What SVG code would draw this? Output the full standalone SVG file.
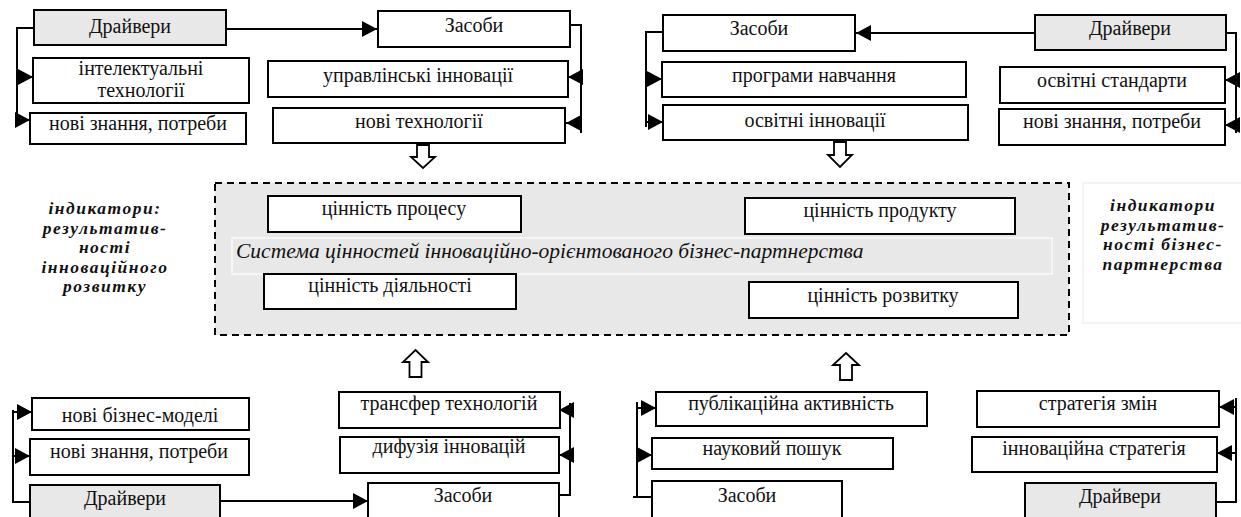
<svg xmlns="http://www.w3.org/2000/svg" width="1241" height="517" viewBox="0 0 1241 517">
<defs>
<style>
.b{fill:#fff;stroke:#000;stroke-width:2}
.g{fill:#e8e8e8;stroke:#000;stroke-width:2}
.t{font-family:'Liberation Serif','Times New Roman',serif;font-size:20px;fill:#111;text-anchor:middle}
.bi{font-family:'Liberation Serif','Times New Roman',serif;font-size:17.5px;letter-spacing:1.5px;font-weight:bold;font-style:italic;fill:#111;text-anchor:middle}
.it{font-family:'Liberation Serif','Times New Roman',serif;font-size:21.5px;font-style:italic;fill:#111}
.c{fill:none;stroke:#000;stroke-width:2}
.h{fill:#fff;stroke:#000;stroke-width:1.8;stroke-linejoin:miter}
</style>
<marker id="ah" markerUnits="userSpaceOnUse" markerWidth="16" markerHeight="16" refX="15" refY="8" orient="auto">
<path d="M0,0 L15,8 L0,16 Z" fill="#000"/>
</marker>
</defs>
<rect width="1241" height="517" fill="#fff"/>

<!-- central frame -->
<g id="frame">
<rect x="215" y="183" width="854" height="152" fill="#e8e8e8" stroke="#000" stroke-width="2" stroke-dasharray="7,5"/>
<rect x="232" y="238" width="820" height="36" fill="#e8e8e8" stroke="#f6f6f6" stroke-width="2"/>
<text class="it" x="236" y="258">Система цінностей інноваційно-орієнтованого бізнес-партнерства</text>
</g>

<!-- top-left -->
<g id="tl-drivers"><rect class="g" x="34" y="10" width="192" height="35"/><text class="t" x="130" y="33">Драйвери</text></g>
<g id="tl-intel"><rect class="b" x="33" y="58" width="216" height="45"/><text class="t" x="141" y="75">інтелектуальні</text><text class="t" x="141" y="97">технології</text></g>
<g id="tl-knowledge"><rect class="b" x="30" y="113" width="216" height="31"/><text class="t" x="138" y="130">нові знання, потреби</text></g>
<g id="tl-means"><rect class="b" x="378" y="11" width="192" height="36"/><text class="t" x="474" y="32">Засоби</text></g>
<g id="tl-mgmt"><rect class="b" x="268" y="61" width="300" height="36"/><text class="t" x="418" y="82">управлінські інновації</text></g>
<g id="tl-tech"><rect class="b" x="273" y="108" width="292" height="35"/><text class="t" x="419" y="128">нові технології</text></g>

<!-- top-right -->
<g id="tr-means"><rect class="b" x="663" y="15" width="192" height="36"/><text class="t" x="759" y="35">Засоби</text></g>
<g id="tr-programs"><rect class="b" x="662" y="62" width="304" height="35"/><text class="t" x="814" y="82">програми навчання</text></g>
<g id="tr-eduinno"><rect class="b" x="663" y="105" width="305" height="35"/><text class="t" x="815" y="127">освітні інновації</text></g>
<g id="tr-drivers"><rect class="g" x="1035" y="15" width="191" height="35"/><text class="t" x="1130" y="35">Драйвери</text></g>
<g id="tr-standards"><rect class="b" x="1000" y="67" width="225" height="36"/><text class="t" x="1112" y="87">освітні стандарти</text></g>
<g id="tr-knowledge"><rect class="b" x="999" y="109" width="226" height="36"/><text class="t" x="1112" y="128">нові знання, потреби</text></g>

<!-- middle -->
<g id="v-process"><rect class="b" x="268" y="196" width="253" height="36"/><text class="t" x="394" y="215">цінність процесу</text></g>
<g id="v-activity"><rect class="b" x="264" y="274" width="252" height="35"/><text class="t" x="390" y="292">цінність діяльності</text></g>
<g id="v-product"><rect class="b" x="745" y="198" width="270" height="36"/><text class="t" x="880" y="217">цінність продукту</text></g>
<g id="v-development"><rect class="b" x="749" y="282" width="269" height="36"/><text class="t" x="883" y="302">цінність розвитку</text></g>

<g id="ind-left">
<text class="bi" x="105" y="214">індикатори:</text>
<text class="bi" x="105" y="233.5">результатив-</text>
<text class="bi" x="105" y="253">ності</text>
<text class="bi" x="105" y="272.5">інноваційного</text>
<text class="bi" x="105" y="292">розвитку</text>
</g>
<g id="ind-right">
<rect x="1083" y="183" width="170" height="140" fill="#fff" stroke="#f0f0f0" stroke-width="1.5"/>
<text class="bi" x="1163" y="211">індикатори</text>
<text class="bi" x="1163" y="230.5">результатив-</text>
<text class="bi" x="1163" y="250">ності бізнес-</text>
<text class="bi" x="1163" y="269.5">партнерства</text>
</g>

<!-- bottom-left -->
<g id="bl-models"><rect class="b" x="32" y="398" width="217" height="32"/><text class="t" x="140" y="422">нові бізнес-моделі</text></g>
<g id="bl-knowledge"><rect class="b" x="30" y="439" width="219" height="36"/><text class="t" x="139" y="458">нові знання, потреби</text></g>
<g id="bl-drivers"><rect class="g" x="30" y="485" width="190" height="40"/><text class="t" x="125" y="505">Драйвери</text></g>
<g id="bl-transfer"><rect class="b" x="339" y="392" width="221" height="36"/><text class="t" x="449" y="410">трансфер технологій</text></g>
<g id="bl-diffusion"><rect class="b" x="340" y="437" width="219" height="36"/><text class="t" x="449" y="453">дифузія інновацій</text></g>
<g id="bl-means"><rect class="b" x="368" y="483" width="191" height="40"/><text class="t" x="463" y="502">Засоби</text></g>

<!-- bottom-right -->
<g id="br-publ"><rect class="b" x="656" y="392" width="271" height="34"/><text class="t" x="791" y="410">публікаційна активність</text></g>
<g id="br-search"><rect class="b" x="652" y="438" width="241" height="31"/><text class="t" x="772" y="455">науковий пошук</text></g>
<g id="br-means"><rect class="b" x="652" y="481" width="190" height="42"/><text class="t" x="747" y="502">Засоби</text></g>
<g id="br-change"><rect class="b" x="977" y="391" width="242" height="36"/><text class="t" x="1098" y="410">стратегія змін</text></g>
<g id="br-innostr"><rect class="b" x="972" y="437" width="245" height="35"/><text class="t" x="1094" y="455">інноваційна стратегія</text></g>
<g id="br-drivers"><rect class="g" x="1025" y="483" width="191" height="42"/><text class="t" x="1120" y="503">Драйвери</text></g>

<!-- connectors -->
<g id="connectors">
<path class="c" d="M34,28 H17 V125"/>
<path class="c" d="M17,77 H33" marker-end="url(#ah)"/>
<path class="c" d="M17,120 H30" marker-end="url(#ah)"/>
<path class="c" d="M226,29 H377" marker-end="url(#ah)"/>
<path class="c" d="M570,25 H581 V133"/>
<path class="c" d="M581,77 H568" marker-end="url(#ah)"/>
<path class="c" d="M581,123 H566" marker-end="url(#ah)"/>
<path class="c" d="M1035,33 H856" marker-end="url(#ah)"/>
<path class="c" d="M663,32 H646 V127"/>
<path class="c" d="M646,79 H662" marker-end="url(#ah)"/>
<path class="c" d="M646,122 H663" marker-end="url(#ah)"/>
<path class="c" d="M1226,33 H1236 V133"/>
<path class="c" d="M1236,80 H1225" marker-end="url(#ah)"/>
<path class="c" d="M1236,125 H1225" marker-end="url(#ah)"/>
<path class="c" d="M30,502 H13 V410"/>
<path class="c" d="M13,412 H32" marker-end="url(#ah)"/>
<path class="c" d="M13,456 H30" marker-end="url(#ah)"/>
<path class="c" d="M220,501 H368" marker-end="url(#ah)"/>
<path class="c" d="M559,495 H570 V403"/>
<path class="c" d="M570,410 H559" marker-end="url(#ah)"/>
<path class="c" d="M570,455 H559" marker-end="url(#ah)"/>
<path class="c" d="M652,497 H633 M637,497 V402"/>
<path class="c" d="M637,408 H656" marker-end="url(#ah)"/>
<path class="c" d="M637,455 H652" marker-end="url(#ah)"/>
<path class="c" d="M1216,502 H1236 V398"/>
<path class="c" d="M1236,407 H1219" marker-end="url(#ah)"/>
<path class="c" d="M1236,453 H1217" marker-end="url(#ah)"/>
<path class="h" d="M417,145 H429 V157 H435 L423,168 L411,157 H417 Z"/>
<path class="h" d="M834,142 H846 V155 H852 L840,167 L828,155 H834 Z"/>
<path class="h" d="M415.5,350 L428,362 H421.5 V377 H409.5 V362 H403 Z"/>
<path class="h" d="M846,353 L859,365 H852 V380 H840 V365 H833 Z"/>
</g>
</svg>
